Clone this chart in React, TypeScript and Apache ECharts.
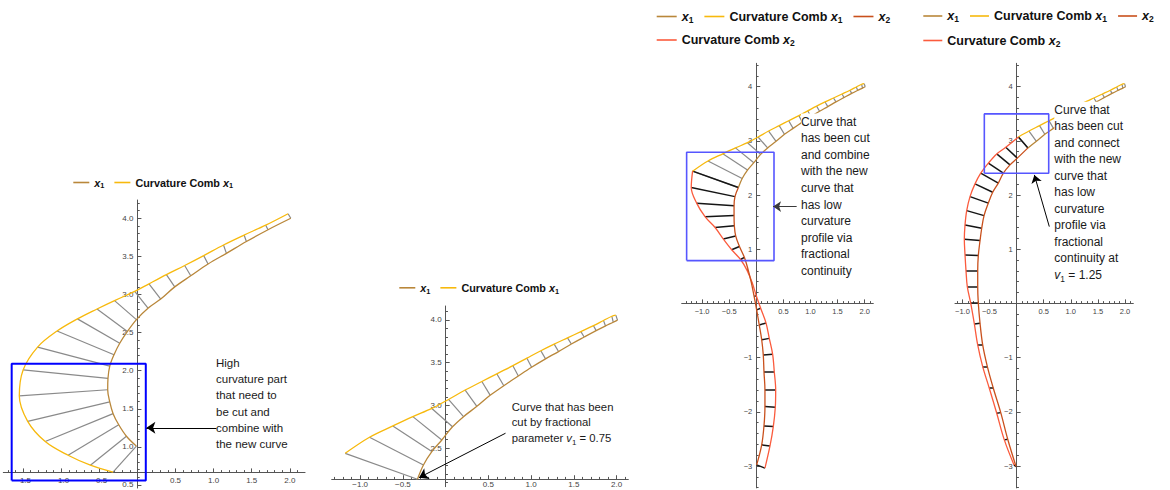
import React, { useEffect, useRef } from 'react';
import * as echarts from 'echarts';

type P = [number, number];

// ---------- curve data (data coordinates) ----------
// Panel 1: full curve x1 (points where the comb teeth start) and comb tips
const P1_X1: P[] = [
  [-0.013, 1.01], [-0.144, 1.14], [-0.245, 1.29], [-0.319, 1.436], [-0.363, 1.59], [-0.39, 1.75],
  [-0.386, 1.9], [-0.363, 2.06], [-0.307, 2.21], [-0.232, 2.36], [-0.131, 2.515], [-0.013, 2.67],
  [0.139, 2.82], [0.306, 2.94], [0.49, 3.1], [0.7, 3.245], [0.927, 3.4], [1.168, 3.54],
  [1.43, 3.695], [1.714, 3.85], [2.013, 4.0],
];
const P1_COMB1: P[] = [
  [-0.32, 0.67], [-0.617, 0.76], [-0.91, 0.89], [-1.21, 1.07], [-1.44, 1.335], [-1.55, 1.67],
  [-1.5, 2.01], [-1.31, 2.31], [-1.055, 2.52], [-0.787, 2.68], [-0.53, 2.81], [-0.3, 2.92],
  [-0.035, 3.04], [0.152, 3.14], [0.38, 3.26], [0.62, 3.38], [0.87, 3.51], [1.13, 3.65],
  [1.4, 3.78], [1.684, 3.91], [1.977, 4.06],
];

// Panels 2-4: x1 cut by fractional parameter v1 = 0.75
const CUT_X1: P[] = [
  [-0.33, 2.137], [-0.26, 2.304], [-0.162, 2.46], [-0.045, 2.596], [0.08, 2.75], [0.209, 2.869],
  [0.365, 2.99], [0.52, 3.12], [0.68, 3.23], [0.85, 3.345], [1.005, 3.447], [1.168, 3.545],
  [1.32, 3.63], [1.47, 3.718], [1.62, 3.8], [1.76, 3.875], [1.87, 3.93], [1.96, 3.973], [2.01, 3.998],
];
const CUT_COMB1: P[] = [
  [-1.175, 2.44], [-0.891, 2.628], [-0.618, 2.76], [-0.384, 2.869], [-0.162, 2.965], [0.033, 3.07],
  [0.228, 3.18], [0.423, 3.28], [0.598, 3.37], [0.786, 3.465], [0.95, 3.553], [1.113, 3.64],
  [1.269, 3.717], [1.425, 3.79], [1.581, 3.863], [1.729, 3.933], [1.846, 3.993], [1.944, 4.043], [1.99, 4.055],
];
// Panel 4 keeps x1 from this tooth on (cut at v1 = 1.25)
const P4_X1_FROM = 5;

// Panel 3: new curve x2 and its comb
const P3_X2: P[] = [
  [-0.33, 2.137], [-0.393, 1.97], [-0.41, 1.8], [-0.41, 1.62], [-0.405, 1.435], [-0.38, 1.245],
  [-0.31, 1.05], [-0.22, 0.85], [-0.15, 0.62], [-0.09, 0.38], [-0.04, 0.13], [0.007, -0.12],
  [0.055, -0.4], [0.1, -0.67], [0.129, -0.95], [0.142, -1.26], [0.16, -1.6], [0.16, -1.9],
  [0.142, -2.26], [0.1, -2.61], [0.007, -2.98],
];
const P3_COMB2: P[] = [
  [-1.175, 2.44], [-1.2, 2.14], [-1.1, 1.85], [-0.946, 1.6], [-0.76, 1.4], [-0.61, 1.19],
  [-0.454, 0.99], [-0.29, 0.81], [-0.17, 0.61], [-0.075, 0.38], [0.0, 0.14], [0.081, -0.09],
  [0.179, -0.36], [0.24, -0.645], [0.302, -0.94], [0.332, -1.26], [0.358, -1.6], [0.351, -1.915],
  [0.314, -2.273], [0.253, -2.63], [0.16, -3.04],
];

// Panel 4: new curve x2 and its comb
const P4_X2: P[] = [
  [0.209, 2.869], [0.013, 2.68], [-0.122, 2.555], [-0.245, 2.402], [-0.338, 2.218], [-0.441, 2.05],
  [-0.522, 1.85], [-0.601, 1.62], [-0.644, 1.387], [-0.675, 1.159], [-0.707, 0.882], [-0.718, 0.605],
  [-0.718, 0.31], [-0.707, 0.004], [-0.675, -0.366], [-0.626, -0.766], [-0.54, -1.166], [-0.43, -1.565],
  [-0.293, -2.015], [-0.164, -2.506], [-0.011, -3.01],
];
const P4_COMB2: P[] = [
  [0.033, 3.07], [-0.201, 2.88], [-0.367, 2.758], [-0.522, 2.587], [-0.662, 2.402], [-0.768, 2.205],
  [-0.86, 1.97], [-0.921, 1.712], [-0.952, 1.448], [-0.965, 1.184], [-0.952, 0.895], [-0.934, 0.605],
  [-0.91, 0.31], [-0.847, 0.004], [-0.78, -0.378], [-0.718, -0.766], [-0.626, -1.166], [-0.504, -1.565],
  [-0.367, -2.026], [-0.227, -2.518], [-0.048, -2.98],
];

// highlight boxes: [xmin, xmax, ymin, ymax]
const BOX1 = [-1.65, 0.11, 0.558, 2.09];
const BOX3 = [-1.285, 0.327, 0.79, 2.79];
const BOX4 = [-0.596, 0.592, 2.402, 3.496];

// annotation arrows: [from, to]
const ARROW1: P[] = [[1.037, 1.25], [0.118, 1.25]];
const ARROW2: P[] = [[0.7, 2.675], [-0.312, 2.155]];
const ARROW3: P[] = [[0.745, 1.786], [0.31, 1.786]];
const ARROW4: P[] = [[0.603, 1.417], [0.327, 2.371]];

// axis ranges and where the axes cross
const P1_X_RANGE = [-1.76, 2.2];
const P1_Y_RANGE = [0.46, 4.24];
const P1_X_AXIS_AT = 0.665;
const P2_X_RANGE = [-1.333, 2.136];
const P2_Y_RANGE = [2.05, 4.163];
const P2_X_AXIS_AT = 2.137;
const P3_X_RANGE = [-1.376, 2.159];
const P4_X_RANGE = [-1.137, 2.153];
const P34_Y_RANGE = [-3.404, 4.43];
const Y_AXIS_AT = 0;

// tick labels
const P1_X_TICKS = [-1.5, -1, -0.5, 0.5, 1, 1.5, 2];
const P1_Y_TICKS = [0.5, 1, 1.5, 2, 2.5, 3, 3.5, 4];
const P2_X_TICKS = [-1, -0.5, 0.5, 1, 1.5, 2];
const P2_Y_TICKS = [2.5, 3, 3.5, 4];
const P34_X_TICKS = [-1, -0.5, 0.5, 1, 1.5, 2];
const P34_Y_TICKS = [-3, -2, -1, 1, 2, 3, 4];

// annotation texts
const TEXT1 = ['High', 'curvature part', 'that need to', 'be cut and', 'combine with', 'the new curve'];
const TEXT2 = ['Curve that has been', 'cut by fractional', 'parameter {i|v}{s|1} = 0.75'];
const TEXT3 = ['Curve that', 'has been cut', 'and combine', 'with the new', 'curve that', 'has low', 'curvature', 'profile via', 'fractional', 'continuity'];
const TEXT4 = ['Curve that', 'has been cut', 'and connect', 'with the new', 'curve that', 'has low', 'curvature', 'profile via', 'fractional', 'continuity at', '{i|v}{s|1} = 1.25'];

// ---------- styling ----------
const FONT = '"Liberation Sans", Arial, Helvetica, sans-serif';
const C_X1 = '#b9873a';
const C_COMB1 = '#f7b90d';
const C_X2 = '#c9501c';
const C_COMB2 = '#fb5b3d';
const C_TOOTH1 = '#8a8a8a';
const C_TOOTH2 = '#151515';
const C_AXIS = '#555555';

const PANELS = [
  { left: 3.3, top: 200, scale: 76.2, xr: P1_X_RANGE, yr: P1_Y_RANGE, cross: P1_X_AXIS_AT, xt: P1_X_TICKS, yt: P1_Y_TICKS, xStep: 0.5, yStep: 0.5, yDigits: 1, size: 8, xMargin: 4 },
  { left: 331.7, top: 306, scale: 85.5, xr: P2_X_RANGE, yr: P2_Y_RANGE, cross: P2_X_AXIS_AT, xt: P2_X_TICKS, yt: P2_Y_TICKS, xStep: 0.5, yStep: 0.5, yDigits: 1, size: 8, xMargin: 1.5 },
  { left: 681.7, top: 63.3, scale: 54.2, xr: P3_X_RANGE, yr: P34_Y_RANGE, cross: 0, xt: P34_X_TICKS, yt: P34_Y_TICKS, xStep: 0.5, yStep: 1, yDigits: 0, size: 7.5, xMargin: 4 },
  { left: 955, top: 63.3, scale: 54.2, xr: P4_X_RANGE, yr: P34_Y_RANGE, cross: 0, xt: P34_X_TICKS, yt: P34_Y_TICKS, xStep: 0.5, yStep: 1, yDigits: 0, size: 7.5, xMargin: 4 },
];

const fmt = (d: number) => (v: number) => (v < 0 ? '\u2212' : '') + Math.abs(v).toFixed(d);

function curve(name: string, data: P[], color: string, gi: number, width = 1.3) {
  return {
    type: 'line', name, data, xAxisIndex: gi, yAxisIndex: gi, smooth: 0.35, symbol: 'none', showSymbol: false,
    color, lineStyle: { color, width }, silent: true, z: 3,
  };
}
function teeth(name: string, base: P[], tip: P[], color: string, width: number, gi: number) {
  return {
    type: 'lines', coordinateSystem: 'cartesian2d', name, xAxisIndex: gi, yAxisIndex: gi, polyline: false,
    data: base.map((b, k) => ({ coords: [b, tip[k]] })),
    lineStyle: { color, width, opacity: 1 }, silent: true, z: 2,
  };
}
function box(name: string, b: number[], color: string, width: number, gi: number) {
  const [x0, x1, y0, y1] = b;
  return {
    type: 'line', name, xAxisIndex: gi, yAxisIndex: gi, symbol: 'none', smooth: false, silent: true, z: 4,
    data: [[x0, y0], [x1, y0], [x1, y1], [x0, y1], [x0, y0]], color, lineStyle: { color, width },
  };
}
function arrow(name: string, a: P[], color: string, gi: number, size: number) {
  return {
    type: 'lines', coordinateSystem: 'cartesian2d', name, xAxisIndex: gi, yAxisIndex: gi,
    symbol: ['none', 'arrow'], symbolSize: size, data: [{ coords: a }],
    lineStyle: { color, width: 1, opacity: 1 }, itemStyle: { color }, silent: true, z: 5,
  };
}

const LEGEND_TEXT: Record<string, string> = {
  x1: '{i|x}{s|1}',
  'Curvature Comb x1': '{b|Curvature Comb }{i|x}{s|1}',
  x2: '{i|x}{s|2}',
  'Curvature Comb x2': '{b|Curvature Comb }{i|x}{s|2}',
};
function legend(left: number, top: number, data: string[], fs: number, iw: number, gap: number) {
  return {
    left, top, data, orient: 'horizontal', padding: 0, itemGap: gap, itemWidth: iw, itemHeight: 1.6,
    icon: 'rect', selectedMode: false,
    formatter: (n: string) => LEGEND_TEXT[n] || n,
    textStyle: {
      color: '#111', fontFamily: FONT,
      rich: {
        b: { fontWeight: 'bold', fontSize: fs, lineHeight: fs + 3, fontFamily: FONT, color: '#111' },
        i: { fontWeight: 'bold', fontStyle: 'italic', fontSize: fs, lineHeight: fs + 3, fontFamily: FONT, color: '#111' },
        s: { fontWeight: 'bold', fontSize: fs * 0.68, lineHeight: fs * 0.68 + 1, verticalAlign: 'bottom', fontFamily: FONT, color: '#111' },
      },
    },
  };
}
function note(x: number, y: number, lines: string[], fs: number, lh: number, bg: boolean) {
  return {
    type: 'text', x, y, z: 100, silent: true,
    style: {
      text: lines.join('\n'), fontSize: fs, fontFamily: FONT, fill: '#1a1a1a', lineHeight: lh,
      verticalAlign: 'top', align: 'left', backgroundColor: bg ? '#ffffff' : 'transparent',
      rich: {
        i: { fontStyle: 'italic', fontSize: fs, fontFamily: FONT, fill: '#1a1a1a', color: '#1a1a1a' },
        s: { fontSize: fs * 0.7, lineHeight: 11, verticalAlign: 'bottom', fontFamily: FONT, color: '#1a1a1a' },
      },
    },
  };
}

function buildOption() {
  const grid = PANELS.map((p) => ({
    left: p.left, top: p.top,
    width: (p.xr[1] - p.xr[0]) * p.scale, height: (p.yr[1] - p.yr[0]) * p.scale,
    containLabel: false, outerBoundsMode: 'none',
  }));
  const xAxis = PANELS.map((p, gi) => ({
    gridIndex: gi, type: 'value', min: p.xr[0], max: p.xr[1], minInterval: p.xStep, maxInterval: p.xStep,
    position: 'bottom', offset: -(p.cross - p.yr[0]) * p.scale,
    axisLine: { show: true, onZero: false, lineStyle: { color: C_AXIS, width: 1 } },
    axisTick: { show: true, inside: true, length: 4, customValues: p.xt, lineStyle: { color: C_AXIS, width: 1 } },
    minorTick: { show: true, splitNumber: 5, length: 2.3, lineStyle: { color: C_AXIS, width: 1 } },
    axisLabel: { customValues: p.xt, formatter: fmt(1), fontSize: p.size, color: '#444', margin: p.xMargin, fontFamily: FONT },
    splitLine: { show: false }, minorSplitLine: { show: false },
  }));
  const yAxis = PANELS.map((p, gi) => ({
    gridIndex: gi, type: 'value', min: p.yr[0], max: p.yr[1], minInterval: p.yStep, maxInterval: p.yStep,
    position: 'left', offset: -(Y_AXIS_AT - p.xr[0]) * p.scale,
    axisLine: { show: true, onZero: false, lineStyle: { color: C_AXIS, width: 1 } },
    axisTick: { show: true, inside: true, length: 4, customValues: p.yt, lineStyle: { color: C_AXIS, width: 1 } },
    minorTick: { show: true, splitNumber: 5, length: 2.3, lineStyle: { color: C_AXIS, width: 1 } },
    axisLabel: { customValues: p.yt, formatter: fmt(p.yDigits), fontSize: p.size, color: '#444', margin: 4, fontFamily: FONT },
    splitLine: { show: false }, minorSplitLine: { show: false },
  }));

  const p4x1 = CUT_X1.slice(P4_X1_FROM);
  const p4c1 = CUT_COMB1.slice(P4_X1_FROM);

  const series = [
    // panel 1
    teeth('teeth x1 (1)', P1_X1, P1_COMB1, C_TOOTH1, 1.2, 0),
    curve('Curvature Comb x1', P1_COMB1, C_COMB1, 0),
    curve('x1', P1_X1, C_X1, 0),
    box('box (1)', BOX1, '#0000ff', 2, 0),
    arrow('arrow (1)', ARROW1, '#000', 0, 9),
    // panel 2
    teeth('teeth x1 (2)', CUT_X1, CUT_COMB1, C_TOOTH1, 1.2, 1),
    curve('Curvature Comb x1', CUT_COMB1, C_COMB1, 1),
    curve('x1', CUT_X1, C_X1, 1),
    arrow('arrow (2)', ARROW2, '#000', 1, 9),
    // panel 3
    teeth('teeth x1 (3)', CUT_X1, CUT_COMB1, C_TOOTH1, 1.2, 2),
    curve('Curvature Comb x1', CUT_COMB1, C_COMB1, 2),
    curve('x1', CUT_X1, C_X1, 2),
    teeth('teeth x2 (3)', P3_X2, P3_COMB2, C_TOOTH2, 1.5, 2),
    curve('Curvature Comb x2', P3_COMB2, C_COMB2, 2),
    curve('x2', P3_X2, C_X2, 2),
    box('box (3)', BOX3, '#5656ff', 1.6, 2),
    arrow('arrow (3)', ARROW3, '#3a3a3a', 2, 8),
    // panel 4
    teeth('teeth x1 (4)', p4x1, p4c1, C_TOOTH1, 1.2, 3),
    curve('Curvature Comb x1', p4c1, C_COMB1, 3),
    curve('x1', p4x1, C_X1, 3),
    teeth('teeth x2 (4)', P4_X2, P4_COMB2, C_TOOTH2, 1.5, 3),
    curve('Curvature Comb x2', P4_COMB2, C_COMB2, 3),
    curve('x2', P4_X2, C_X2, 3),
    box('box (4)', BOX4, '#5656ff', 1.6, 3),
    arrow('arrow (4)', ARROW4, '#000', 3, 8),
  ];

  return {
    animation: false,
    backgroundColor: '#ffffff',
    textStyle: { fontFamily: FONT },
    grid, xAxis, yAxis, series,
    legend: [
      legend(73.3, 177, ['x1', 'Curvature Comb x1'], 10.8, 16, 10),
      legend(399.3, 282.3, ['x1', 'Curvature Comb x1'], 10.8, 16, 10),
      legend(656.7, 10, ['x1', 'Curvature Comb x1', 'x2'], 12.5, 20, 11),
      legend(656.7, 33.5, ['Curvature Comb x2'], 12.5, 20, 11),
      legend(923.3, 9.5, ['x1', 'Curvature Comb x1', 'x2'], 12.5, 19, 11),
      legend(923.3, 34, ['Curvature Comb x2'], 12.5, 19, 11),
    ],
    graphic: [
      note(216, 354.5, TEXT1, 11.5, 16.3, false),
      note(511.7, 398.8, TEXT2, 11.3, 15.8, false),
      note(801, 113.4, TEXT3, 12, 16.6, true),
      note(1054.3, 101.7, TEXT4, 12, 16.5, true),
    ],
  };
}

export default function App() {
  const ref = useRef<HTMLDivElement>(null);
  useEffect(() => {
    if (!ref.current) return;
    const chart = echarts.init(ref.current, undefined, { renderer: 'svg' });
    chart.setOption(buildOption() as any);
    return () => chart.dispose();
  }, []);
  return (
    <div
      ref={ref}
      style={{ position: 'absolute', left: 0, top: 0, width: 1170, height: 490, background: '#fff' }}
    />
  );
}
